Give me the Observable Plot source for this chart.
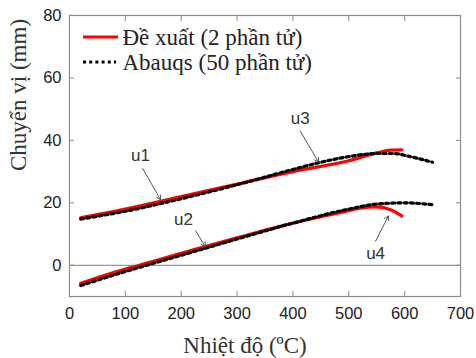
<!DOCTYPE html>
<html>
<head>
<meta charset="utf-8">
<script src="https://cdn.jsdelivr.net/npm/d3@7"></script>
<script src="https://cdn.jsdelivr.net/npm/@observablehq/plot@0.6"></script>
<style>
  html, body { margin: 0; padding: 0; background: #fff; }
  #chart { width: 476px; height: 358px; }
</style>
</head>
<body>
<div id="chart"></div>
<script>
// ---- data ----
const seriesNames = ["Đề xuất (2 phần tử)", "Abauqs (50 phần tử)"];

const redUpperT = [20, 100, 200, 300, 400, 500, 550, 575, 595];
const redUpperU = [15.2, 18, 22, 26, 30, 33.5, 36, 36.9, 37];

const dotUpperT = [20, 100, 200, 300, 400, 450, 500, 550, 580, 610, 650];
const dotUpperU = [14.8, 17.3, 21.3, 25.8, 30.7, 33, 34.8, 35.8, 35.8, 34.8, 33];

const redLowerT = [20, 100, 125, 200, 243, 300, 400, 500, 520, 550, 575, 595];
const redLowerU = [-5.8, -1.2, 0, 3.8, 6, 8.8, 13.5, 17.5, 18.3, 18.7, 17.8, 15.8];

const dotLowerT = [20, 100, 200, 300, 400, 500, 550, 600, 650];
const dotLowerU = [-6.5, -2, 3.2, 8.4, 13.5, 18, 19.6, 20, 19.4];

const xTicks = [0, 100, 200, 300, 400, 500, 600, 700];
const yTicks = [0, 20, 40, 60, 80];

const labelNames = ["u1", "u2", "u3", "u4"];
const labelX = [127, 204, 413, 548];
const labelY = [35, 14.8, 47, 3.9];
const arrowX1 = [131, 226, 413, 548];
const arrowY1 = [31, 11, 43, 7.7];
const arrowX2 = [163, 243, 446, 571];
const arrowY2 = [21, 6, 33, 15.8];

const xTitle = "Nhiệt độ (ºC)";
const yTitle = "Chuyển vị (mm)";

// ---- build tables ----
const zip = (ts, us) => ts.map((t, i) => ({t, u: us[i]}));
const redUpper = zip(redUpperT, redUpperU);
const redLower = zip(redLowerT, redLowerU);
const dotUpper = zip(dotUpperT, dotUpperU);
const dotLower = zip(dotLowerT, dotLowerU);
const labels = labelNames.map((n, i) => ({n, x: labelX[i], y: labelY[i]}));
const arrows = labelNames.map((n, i) => ({x1: arrowX1[i], y1: arrowY1[i], x2: arrowX2[i], y2: arrowY2[i]}));

const serif = "'Liberation Serif', 'Times New Roman', serif";
const sans = "'Liberation Sans', Arial, sans-serif";
const axisGray = "#8a8a8a";

const redStyle = {stroke: "#ff0000", strokeWidth: 3.2, curve: "monotone-x"};
const dotStyle = {stroke: "#000", strokeWidth: 3.2, strokeDasharray: "3,3.2", curve: "monotone-x"};

const plot = Plot.plot({
  width: 476,
  height: 358,
  marginLeft: 69,
  marginRight: 16,
  marginTop: 15,
  marginBottom: 62,
  style: {background: "#fff", fontFamily: sans},
  x: {domain: [0, 700]},
  y: {domain: [-10, 80]},
  marks: [
    Plot.ruleY([0], {stroke: "#999", strokeWidth: 1.2}),
    Plot.frame({stroke: axisGray, strokeWidth: 1.2}),
    // tick labels
    Plot.axisX({ticks: xTicks, tickSize: 0, tickPadding: 11, fontSize: 16.5, fill: "#222", label: null, stroke: "none"}),
    Plot.axisY({ticks: yTicks, tickSize: 0, tickPadding: 8, fontSize: 16.5, fill: "#222", label: null, stroke: "none"}),
    // inward ticks on all sides
    Plot.axisX({ticks: xTicks, anchor: "bottom", tickSize: -5, tickFormat: () => "", label: null, stroke: axisGray}),
    Plot.axisX({ticks: xTicks, anchor: "top", tickSize: -5, tickFormat: () => "", label: null, stroke: axisGray}),
    Plot.axisY({ticks: yTicks, anchor: "left", tickSize: -5, tickFormat: () => "", label: null, stroke: axisGray}),
    Plot.axisY({ticks: yTicks, anchor: "right", tickSize: -5, tickFormat: () => "", label: null, stroke: axisGray}),
    // curves
    Plot.line(redUpper, {x: "t", y: "u", ...redStyle}),
    Plot.line(redLower, {x: "t", y: "u", ...redStyle}),
    Plot.line(dotUpper, {x: "t", y: "u", ...dotStyle}),
    Plot.line(dotLower, {x: "t", y: "u", ...dotStyle}),
    // annotations
    Plot.arrow(arrows, {x1: "x1", y1: "y1", x2: "x2", y2: "y2", stroke: "#555", strokeWidth: 1, headLength: 7, bend: 0}),
    Plot.text(labels, {x: "x", y: "y", text: "n", fontSize: 17, fill: "#333", fontFamily: sans}),
    // axis titles
    Plot.text([xTitle], {frameAnchor: "bottom", dx: -20, dy: 56, fontSize: 23, fontFamily: serif, fill: "#333"}),
    Plot.text([yTitle], {frameAnchor: "left", dx: -51, dy: 15, rotate: -90, fontSize: 23, fontFamily: serif, fill: "#333"}),
    // legend text
    Plot.text([seriesNames[0]], {frameAnchor: "top-left", dx: 53, dy: 22, lineAnchor: "middle", textAnchor: "start", fontSize: 23, fontFamily: serif, fill: "#222"}),
    Plot.text([seriesNames[1]], {frameAnchor: "top-left", dx: 53, dy: 47, lineAnchor: "middle", textAnchor: "start", fontSize: 23, fontFamily: serif, fill: "#222"})
  ]
});

const svg = d3.select(plot);
svg.selectAll("text").filter(function() {
  const t = this.textContent;
  return t === xTitle || t === yTitle || seriesNames.includes(t);
}).style("font-family", serif);

// legend line samples
svg.append("line").attr("x1", 83).attr("x2", 118).attr("y1", 37).attr("y2", 37)
  .attr("stroke", "#ff0000").attr("stroke-width", 3.2);
svg.append("line").attr("x1", 83).attr("x2", 116).attr("y1", 62).attr("y2", 62)
  .attr("stroke", "#000").attr("stroke-width", 3.2).attr("stroke-dasharray", "3,3.2");

document.getElementById("chart").append(plot);
</script>
</body>
</html>
